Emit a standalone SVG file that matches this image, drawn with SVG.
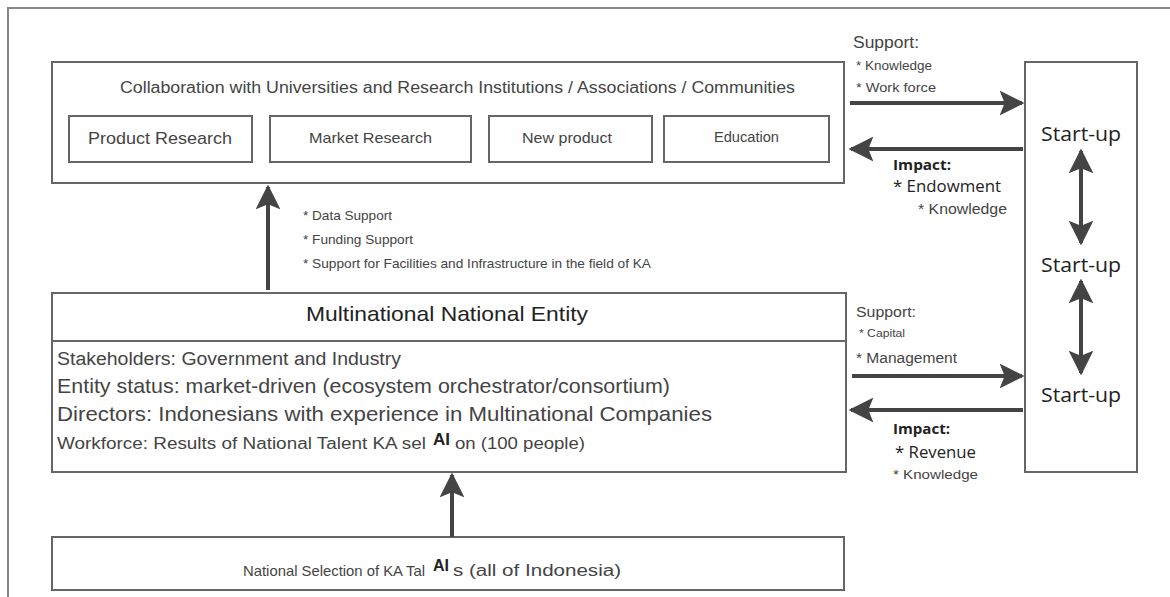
<svg xmlns="http://www.w3.org/2000/svg" width="1170" height="597" viewBox="0 0 1170 597">
<defs>
<style>
.box{fill:#fff;stroke:#666;stroke-width:2}
.t{font-family:"Liberation Sans",Arial,sans-serif;fill:#444}
.s{font-family:"Open Sans","Noto Sans",sans-serif;fill:#222}
.c{stroke:#444;stroke-width:4;fill:none}
.frame{stroke:#888;stroke-width:2;fill:none}
</style>
<marker id="ah" viewBox="0 0 10 10" refX="9" refY="5" markerWidth="6.2" markerHeight="6.8" orient="auto-start-reverse" markerUnits="strokeWidth">
<path d="M0,0 L10,5 L0,10 L2,5 Z" fill="#444"/>
</marker>
</defs>
<rect width="1170" height="597" fill="#fff"/>
<path class="frame" d="M8,597 V8 H1170"/>

<g id="collab">
<rect class="box" x="52" y="62" width="792" height="121"/>
<text class="t" x="120" y="93" font-size="16" textLength="675" lengthAdjust="spacingAndGlyphs">Collaboration with Universities and Research Institutions / Associations / Communities</text>
</g>
<g id="product-research">
<rect class="box" x="69" y="116" width="183" height="46"/>
<text class="t" x="88" y="144" font-size="17" textLength="144" lengthAdjust="spacingAndGlyphs">Product Research</text>
</g>
<g id="market-research">
<rect class="box" x="270" y="116" width="201" height="46"/>
<text class="t" x="309" y="143" font-size="15" textLength="123" lengthAdjust="spacingAndGlyphs">Market Research</text>
</g>
<g id="new-product">
<rect class="box" x="489" y="116" width="163" height="46"/>
<text class="t" x="522" y="143" font-size="15" textLength="90" lengthAdjust="spacingAndGlyphs">New product</text>
</g>
<g id="education">
<rect class="box" x="664" y="116" width="165" height="46"/>
<text class="t" x="714" y="142" font-size="14" textLength="65" lengthAdjust="spacingAndGlyphs">Education</text>
</g>

<g id="entity">
<rect class="box" x="52" y="293" width="794" height="179"/>
<line x1="52" y1="341" x2="846" y2="341" stroke="#666" stroke-width="2"/>
<text class="t" x="306" y="321" font-size="21" style="fill:#222" textLength="282" lengthAdjust="spacingAndGlyphs">Multinational National Entity</text>
<text class="t" x="57" y="365" font-size="18" textLength="344" lengthAdjust="spacingAndGlyphs">Stakeholders: Government and Industry</text>
<text class="t" x="57" y="393" font-size="21" textLength="613" lengthAdjust="spacingAndGlyphs">Entity status: market-driven (ecosystem orchestrator/consortium)</text>
<text class="t" x="57" y="421" font-size="21" textLength="655" lengthAdjust="spacingAndGlyphs">Directors: Indonesians with experience in Multinational Companies</text>
<text class="t" x="57" y="449" font-size="16" textLength="369" lengthAdjust="spacingAndGlyphs">Workforce: Results of National Talent KA sel</text>
<text class="t" x="433" y="445" font-size="17" font-weight="bold" style="fill:#222">AI</text>
<text class="t" x="455" y="449" font-size="16" textLength="130" lengthAdjust="spacingAndGlyphs">on (100 people)</text>
</g>

<g id="national-selection">
<rect class="box" x="52" y="537" width="792" height="53"/>
<text class="t" x="243" y="576" font-size="15" textLength="182" lengthAdjust="spacingAndGlyphs">National Selection of KA Tal</text>
<text class="t" x="433" y="571" font-size="16" font-weight="bold" style="fill:#222">AI</text>
<text class="t" x="453" y="576" font-size="16" textLength="168" lengthAdjust="spacingAndGlyphs">s (all of Indonesia)</text>
</g>

<g id="startups">
<rect class="box" x="1025" y="62" width="112" height="410"/>
<text class="s" x="1041" y="141" font-size="20" textLength="80" lengthAdjust="spacingAndGlyphs">Start-up</text>
<text class="s" x="1041" y="272" font-size="20" textLength="80" lengthAdjust="spacingAndGlyphs">Start-up</text>
<text class="s" x="1041" y="402" font-size="20" textLength="80" lengthAdjust="spacingAndGlyphs">Start-up</text>
</g>

<g id="connectors">
<line class="c" x1="268" y1="290" x2="268" y2="187" marker-end="url(#ah)"/>
<line class="c" x1="452" y1="537" x2="452" y2="475" marker-end="url(#ah)"/>
<line class="c" x1="850" y1="103" x2="1022" y2="103" marker-end="url(#ah)"/>
<line class="c" x1="1023" y1="149" x2="851" y2="149" marker-end="url(#ah)"/>
<line class="c" x1="852" y1="376" x2="1022" y2="376" marker-end="url(#ah)"/>
<line class="c" x1="1023" y1="410" x2="851" y2="410" marker-end="url(#ah)"/>
<line class="c" x1="1081" y1="151" x2="1081" y2="243" marker-start="url(#ah)" marker-end="url(#ah)"/>
<line class="c" x1="1081" y1="281" x2="1081" y2="373" marker-start="url(#ah)" marker-end="url(#ah)"/>
</g>

<g id="labels">
<text class="t" x="303" y="220" font-size="13" textLength="89" lengthAdjust="spacingAndGlyphs">* Data Support</text>
<text class="t" x="303" y="244" font-size="13" textLength="110" lengthAdjust="spacingAndGlyphs">* Funding Support</text>
<text class="t" x="303" y="268" font-size="13" textLength="348" lengthAdjust="spacingAndGlyphs">* Support for Facilities and Infrastructure in the field of KA</text>

<text class="t" x="853" y="48" font-size="16" textLength="66" lengthAdjust="spacingAndGlyphs">Support:</text>
<text class="t" x="856" y="70" font-size="12" textLength="76" lengthAdjust="spacingAndGlyphs">* Knowledge</text>
<text class="t" x="856" y="92" font-size="13" textLength="80" lengthAdjust="spacingAndGlyphs">* Work force</text>
<text class="s" x="893" y="170" font-size="15" font-weight="bold" textLength="58" lengthAdjust="spacingAndGlyphs">Impact:</text>
<text class="s" x="893" y="192" font-size="17" textLength="108" lengthAdjust="spacingAndGlyphs">* Endowment</text>
<text class="t" x="918" y="214" font-size="14" textLength="89" lengthAdjust="spacingAndGlyphs">* Knowledge</text>

<text class="t" x="856" y="317" font-size="15" textLength="60" lengthAdjust="spacingAndGlyphs">Support:</text>
<text class="t" x="859" y="337" font-size="11" textLength="46" lengthAdjust="spacingAndGlyphs">* Capital</text>
<text class="t" x="856" y="363" font-size="14" textLength="101" lengthAdjust="spacingAndGlyphs">* Management</text>
<text class="s" x="893" y="434" font-size="15" font-weight="bold" textLength="57" lengthAdjust="spacingAndGlyphs">Impact:</text>
<text class="s" x="895" y="458" font-size="16" textLength="81" lengthAdjust="spacingAndGlyphs">* Revenue</text>
<text class="t" x="893" y="479" font-size="13" textLength="85" lengthAdjust="spacingAndGlyphs">* Knowledge</text>
</g>
</svg>
